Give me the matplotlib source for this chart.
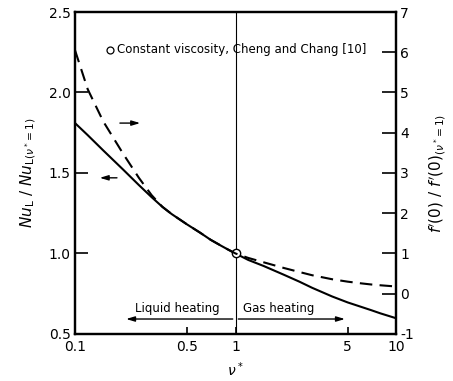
import matplotlib
matplotlib.use("Agg")
import matplotlib.pyplot as plt

# viscosity ratio nu*
nu_pts = [0.1, 0.12, 0.15, 0.2, 0.25, 0.3, 0.35, 0.4, 0.5, 0.6, 0.7, 0.8, 0.9, 1,
          1.2, 1.5, 2, 2.5, 3, 4, 5, 6, 7, 8, 10]
# Nu_L / Nu_L(nu*=1), left axis (solid)
nu_ratio = [1.81, 1.735, 1.64, 1.52, 1.425, 1.35, 1.29, 1.245, 1.18, 1.13, 1.085, 1.052, 1.024, 1.0,
            0.96, 0.922, 0.868, 0.825, 0.787, 0.733, 0.696, 0.67, 0.648, 0.628, 0.598]
# f'(0) / f'(0)(nu*=1), right axis (dashed)
f_ratio = [6.05, 5.08, 4.28, 3.47, 2.88, 2.45, 2.16, 1.98, 1.72, 1.52, 1.34, 1.21, 1.096, 1.0,
           0.89, 0.78, 0.64, 0.54, 0.46, 0.36, 0.30, 0.26, 0.23, 0.21, 0.18]

xticks = [0.1, 0.5, 1, 5, 10]
xticklabels = ["0.1", "0.5", "1", "5", "10"]
lticks = [0.5, 1.0, 1.5, 2.0, 2.5]
rticks = [-1, 0, 1, 2, 3, 4, 5, 6, 7]

fig = plt.figure(figsize=(4.53, 3.81), dpi=100)
ax = fig.add_axes([0.1656, 0.1234, 0.7086, 0.8451])
ax2 = ax.twinx()

ax.plot(nu_pts, nu_ratio, color="k", lw=1.5, solid_joinstyle="round")
ax2.plot(nu_pts, f_ratio, color="k", lw=1.5, dashes=(6, 3.5))
ax.axvline(1, color="k", lw=0.8)
ax.plot([1], [1], "o", ms=6, mfc="white", mec="k", mew=1, zorder=5)

ax.set_xscale("log")
ax.set_xlim(0.1, 10)
ax.set_ylim(0.5, 2.5)
ax2.set_ylim(-1, 7)
ax.set_xticks(xticks)
ax.set_xticklabels(xticklabels)
ax.minorticks_off()
ax.set_yticks(lticks)
ax.set_yticklabels(["0.5", "1.0", "1.5", "2.0", "2.5"])
ax2.set_yticks(rticks)
ax2.set_yticklabels([str(t) for t in rticks])

ax.tick_params(axis="y", direction="in", length=9, width=1.2, labelsize=10, pad=3)
ax.tick_params(axis="x", direction="in", length=5, width=1.2, labelsize=10, pad=4)
ax2.tick_params(axis="y", direction="in", length=10, width=1.2, labelsize=10, pad=3)
for a in (ax, ax2):
    for s in a.spines.values():
        s.set_linewidth(1.6)

ax.set_xlabel(r"$\nu^*$", fontsize=10, labelpad=5)
ax.set_ylabel(r"$Nu_\mathrm{L}\ /\ Nu_{\mathrm{L}(\nu^*\!=1)}$", fontsize=11, labelpad=8)
ax2.set_ylabel(r"$f'(0)\ /\ f'(0)_{(\nu^*\!=1)}$", fontsize=11, labelpad=10, rotation=90)

# legend note
ax.plot([0.108], [0.882], "o", ms=5, mfc="white", mec="k", mew=0.9, transform=ax.transAxes)
ax.text(0.13, 0.882, "Constant viscosity, Cheng and Chang [10]", transform=ax.transAxes,
        fontsize=8.5, va="center", ha="left")

# curve identifier arrows
arr = dict(arrowstyle="-|>,head_length=0.5,head_width=0.15", color="k", lw=1)
ax.annotate("", xy=(0.265, 1.81), xytext=(0.183, 1.81), arrowprops=arr)
ax.annotate("", xy=(0.137, 1.47), xytext=(0.19, 1.47), arrowprops=arr)

# heating regime arrows
ax.annotate("", xy=(0.2, 0.593), xytext=(1, 0.593), arrowprops=arr)
ax.annotate("", xy=(5, 0.593), xytext=(1, 0.593), arrowprops=arr)
ax.text(0.433, 0.661, "Liquid heating", fontsize=8.5, ha="center", va="center")
ax.text(1.87, 0.661, "Gas heating", fontsize=8.5, ha="center", va="center")

fig.savefig("out.png", dpi=100)
